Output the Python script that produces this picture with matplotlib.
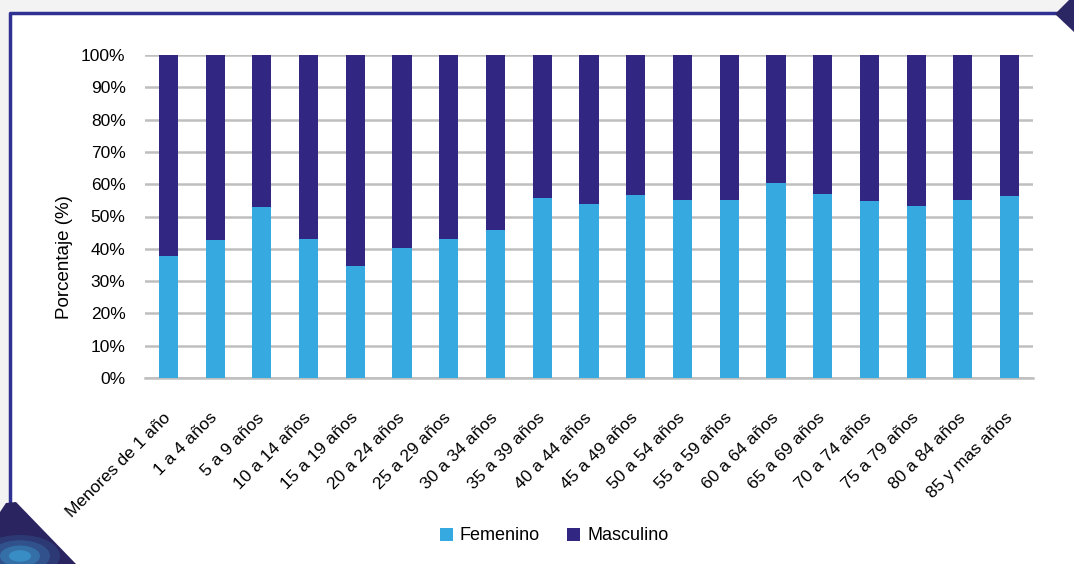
import numpy as np
import matplotlib
matplotlib.use("Agg")
import matplotlib.pyplot as plt
from matplotlib.patches import Polygon, Rectangle, Circle
from matplotlib.lines import Line2D

plt.rcParams['font.family'] = ['Liberation Sans', 'DejaVu Sans']

grupos = ['Menores de 1 año', '1 a 4 años', '5 a 9 años', '10 a 14 años',
          '15 a 19 años', '20 a 24 años', '25 a 29 años', '30 a 34 años',
          '35 a 39 años', '40 a 44 años', '45 a 49 años', '50 a 54 años',
          '55 a 59 años', '60 a 64 años', '65 a 69 años', '70 a 74 años',
          '75 a 79 años', '80 a 84 años', '85 y mas años']
femenino = [37.9, 42.6, 53.0, 42.9, 34.8, 40.1, 42.9, 45.7, 55.6, 53.8,
            56.6, 55.0, 55.0, 60.3, 56.9, 54.7, 53.2, 55.0, 56.2]
masculino = [100 - f for f in femenino]

C_FEM = '#36A9E1'
C_MAS = '#312783'
NAVY = '#2E3192'

W, H = 1074, 564
fig = plt.figure(figsize=(W / 100, H / 100), dpi=100)
fig.patch.set_facecolor('white')


def px(x, y):
    # pixel coords (top-left origin) -> figure fraction
    return (x / W, 1 - y / H)


# soft grey surroundings outside the frame
fig.add_artist(Rectangle(px(0, 13), 1, 13 / H, transform=fig.transFigure,
                         facecolor='#f3f3f3', edgecolor='none', zorder=0))
fig.add_artist(Rectangle(px(0, H), 10 / W, 1, transform=fig.transFigure,
                         facecolor='#f3f3f3', edgecolor='none', zorder=0))

# frame lines (left and top)
fig.add_artist(Line2D([10 / W, 10 / W, 1058 / W], [1 - 505 / H, 1 - 13 / H, 1 - 13 / H],
                      transform=fig.transFigure, color=NAVY, lw=2.5, zorder=1))

# top-right corner ornament
fig.add_artist(Polygon([px(1055, 14), px(1069, 0), px(1074, 0), px(1074, 32)],
                       closed=True, transform=fig.transFigure,
                       facecolor='#2B2765', edgecolor='none', zorder=2))

# bottom-left corner ornament with a cyan glow
corner = Polygon([px(0, 512), px(6, 503), px(16, 502), px(76, 564), px(0, 564)],
                 closed=True, transform=fig.transFigure,
                 facecolor='#2A2461', edgecolor='none', zorder=2)
fig.add_artist(corner)
for r, a in [(40, 0.15), (30, 0.2), (20, 0.3), (11, 0.45)]:
    c = Circle(px(20, 556), r / W, transform=fig.transFigure,
               facecolor='#3FB6E8', edgecolor='none', alpha=a, zorder=3)
    c.set_clip_path(corner)
    fig.add_artist(c)

ax = fig.add_axes([145 / W, 1 - 378 / H, (1033 - 145) / W, (378 - 55) / H])
x = np.arange(len(grupos))
ax.bar(x, femenino, width=0.41, color=C_FEM, label='Femenino', zorder=3)
ax.bar(x, masculino, width=0.41, bottom=femenino, color=C_MAS,
       label='Masculino', zorder=3)

ax.set_xlim(-0.5, len(grupos) - 0.5)
ax.set_ylim(0, 100)
ax.set_yticks(np.arange(0, 101, 10))
ax.set_yticklabels([f'{v}%' for v in range(0, 101, 10)], fontsize=12.5)
ax.yaxis.grid(True, color='#bfbfbf', lw=1.8, zorder=0)
ax.set_axisbelow(True)
for s in ['top', 'right', 'left']:
    ax.spines[s].set_visible(False)
ax.spines['bottom'].set_color('#bfbfbf')
ax.spines['bottom'].set_linewidth(1.8)
ax.tick_params(axis='both', length=0)
ax.tick_params(axis='y', pad=14)

ax.set_xticks(x)
ax.set_xticklabels(grupos, rotation=45, ha='right', va='center',
                   rotation_mode='anchor', fontsize=12.5)
ax.tick_params(axis='x', pad=27)

ax.set_ylabel('Porcentaje (%)', fontsize=13.5)
ax.yaxis.set_label_coords(-0.081, 0.375)

fig.legend(loc='center', bbox_to_anchor=(0.516, 1 - 536 / H), ncol=2,
           frameon=False, fontsize=13, handlelength=0.72, handleheight=0.72,
           handletextpad=0.39, columnspacing=1.5)

fig.savefig('out.png', dpi=100, facecolor=fig.get_facecolor())
